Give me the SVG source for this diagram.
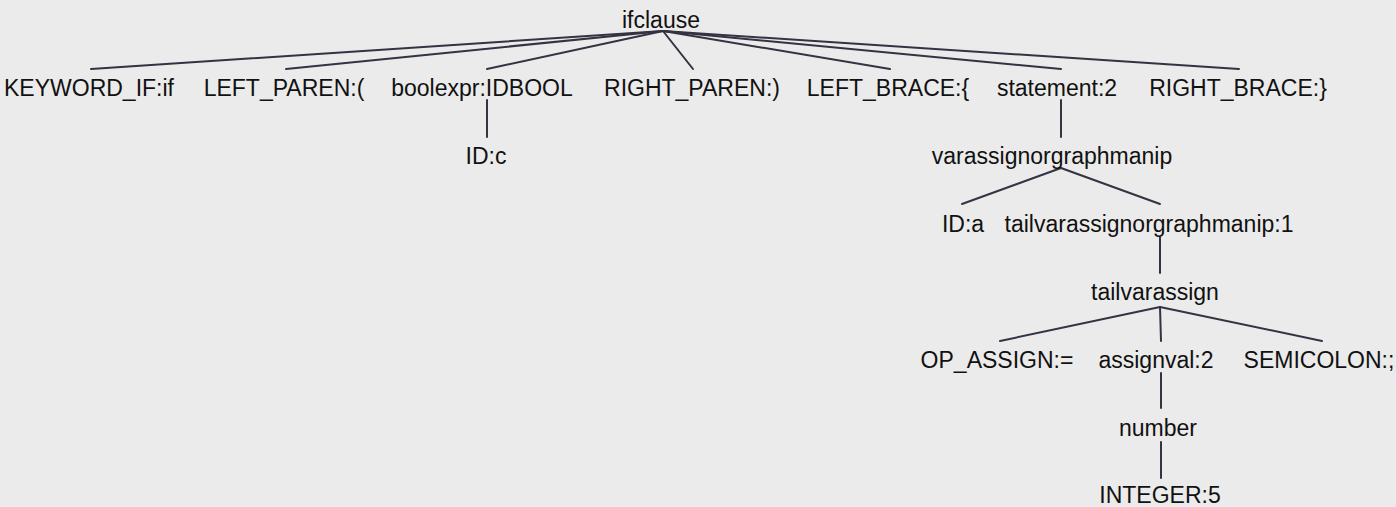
<svg xmlns="http://www.w3.org/2000/svg" width="1396" height="507" viewBox="0 0 1396 507">
<style>
.bg{fill:#ebebeb}
text{font-family:"Liberation Sans",Arial,sans-serif;font-size:23px;fill:#111;text-anchor:middle}
.e line{stroke:#333342;stroke-width:2;stroke-linecap:round}
</style>
<rect class="bg" x="0" y="0" width="1396" height="507"/>
<g class="e" id="connectors">
<line x1="663" y1="31" x2="91" y2="69"/>
<line x1="663" y1="31" x2="286" y2="69"/>
<line x1="663" y1="31" x2="487" y2="69"/>
<line x1="663" y1="31" x2="693" y2="69"/>
<line x1="663" y1="31" x2="890" y2="69"/>
<line x1="663" y1="31" x2="1061" y2="69"/>
<line x1="663" y1="31" x2="1239" y2="69"/>
<line x1="487" y1="100" x2="487" y2="137"/>
<line x1="1061" y1="100" x2="1061" y2="137"/>
<line x1="1061" y1="168" x2="962" y2="204"/>
<line x1="1061" y1="168" x2="1160" y2="204"/>
<line x1="1160" y1="237" x2="1160" y2="273"/>
<line x1="1160" y1="307" x2="1000" y2="341"/>
<line x1="1160" y1="307" x2="1161" y2="341"/>
<line x1="1160" y1="307" x2="1322" y2="341"/>
<line x1="1161" y1="373" x2="1161" y2="408"/>
<line x1="1161" y1="442" x2="1161" y2="478"/>
</g>
<g id="n_ifclause"><text x="661" y="28">ifclause</text></g>
<g id="n_kwif"><text x="89" y="96">KEYWORD_IF:if</text></g>
<g id="n_lparen"><text x="284" y="96">LEFT_PAREN:(</text></g>
<g id="n_boolexpr"><text x="482" y="96">boolexpr:IDBOOL</text></g>
<g id="n_rparen"><text x="692" y="96">RIGHT_PAREN:)</text></g>
<g id="n_lbrace"><text x="888" y="96">LEFT_BRACE:{</text></g>
<g id="n_statement"><text x="1057" y="96">statement:2</text></g>
<g id="n_rbrace"><text x="1238" y="96">RIGHT_BRACE:}</text></g>
<g id="n_idc"><text x="486" y="164">ID:c</text></g>
<g id="n_varassign"><text x="1052" y="164">varassignorgraphmanip</text></g>
<g id="n_ida"><text x="963" y="232">ID:a</text></g>
<g id="n_tailvarassignorgraphmanip"><text x="1149" y="232">tailvarassignorgraphmanip:1</text></g>
<g id="n_tailvarassign"><text x="1155" y="300">tailvarassign</text></g>
<g id="n_opassign"><text x="997" y="368">OP_ASSIGN:=</text></g>
<g id="n_assignval"><text x="1156" y="368">assignval:2</text></g>
<g id="n_semicolon"><text x="1319" y="368">SEMICOLON:;</text></g>
<g id="n_number"><text x="1158" y="436">number</text></g>
<g id="n_integer"><text x="1160" y="503">INTEGER:5</text></g>
</svg>
